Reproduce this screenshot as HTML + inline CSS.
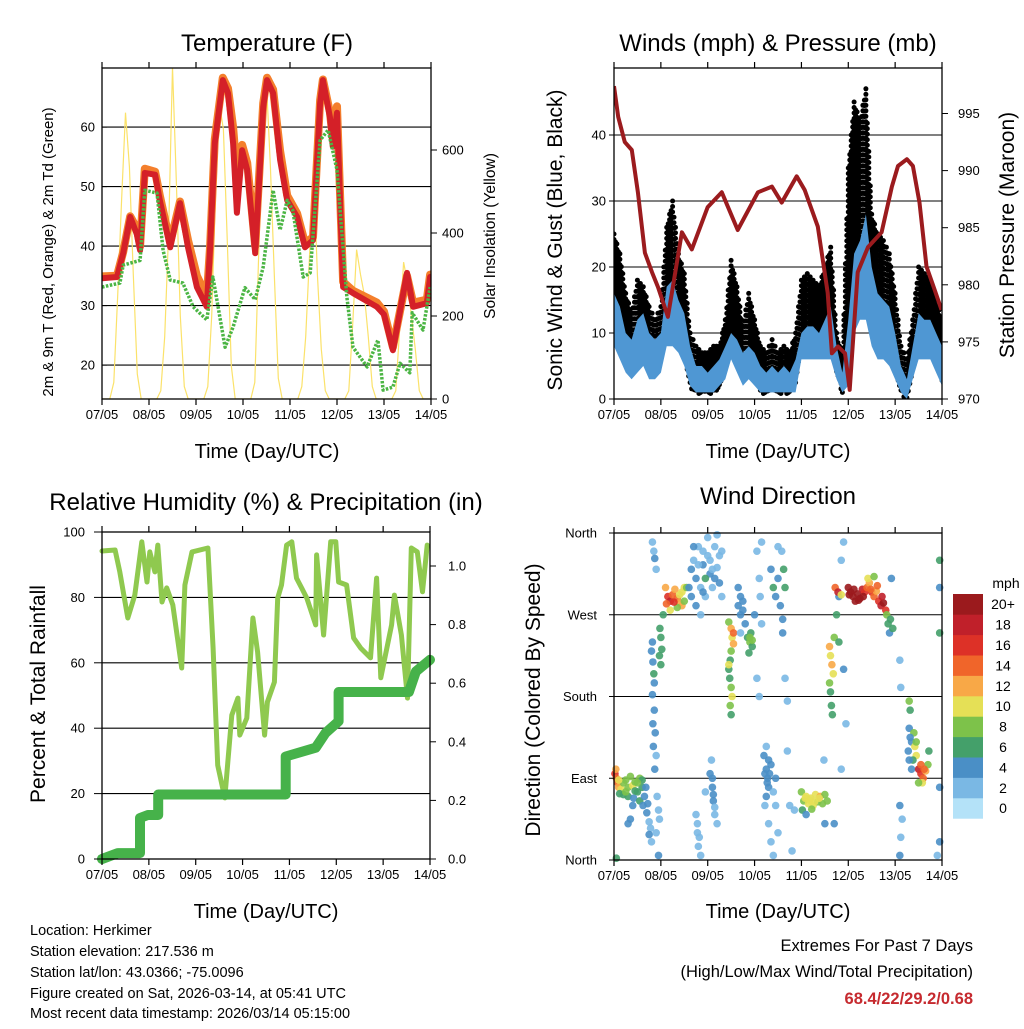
<!DOCTYPE html>
<html><head><meta charset="utf-8"><style>
html,body{margin:0;padding:0;background:#fff;}
svg text{font-family:"Liberation Sans",Arial,sans-serif;fill:#000;}
</style></head><body>
<svg id="chart" width="1024" height="1024" viewBox="0 0 1024 1024" xmlns="http://www.w3.org/2000/svg">
<rect width="1024" height="1024" fill="#fff"/>
<g id="p1"></g>
<g id="p2"></g>
<g id="p3"></g>
<g id="p4"></g>
<g font-size="14.5">
<text x="30" y="935">Location: Herkimer</text>
<text x="30" y="956">Station elevation: 217.536 m</text>
<text x="30" y="977">Station lat/lon: 43.0366; -75.0096</text>
<text x="30" y="998">Figure created on Sat, 2026-03-14, at 05:41 UTC</text>
<text x="30" y="1018">Most recent data timestamp: 2026/03/14 05:15:00</text>
</g>
<g font-size="16.5" text-anchor="end">
<text x="973" y="951">Extremes For Past 7 Days</text>
<text x="973" y="977">(High/Low/Max Wind/Total Precipitation)</text>
<text x="973" y="1004" font-weight="bold" style="fill:#c62a2f">68.4/22/29.2/0.68</text>
</g>
</svg>
<script>
const NS="http://www.w3.org/2000/svg";
const dayLabels=["07/05","08/05","09/05","10/05","11/05","12/05","13/05","14/05"];
// Temperature (2m red, 9m orange, dewpoint green)
const tDays=[0,0.32,0.45,0.6,0.74,0.81,0.91,1.13,1.23,1.45,1.66,1.83,2.02,2.23,2.3,2.4,2.57,2.68,2.79,2.87,2.98,3.09,3.26,3.43,3.51,3.64,3.79,3.94,4.15,4.32,4.49,4.64,4.7,4.85,4.91,5.0,5.13,5.34,5.85,6.0,6.19,6.49,6.62,6.91,6.98];
const t2m=[34.6,34.8,38.8,44.9,42,39.3,52.3,52,47.7,39.8,47.2,39.8,33.1,29.8,39.8,57.3,67.9,65.7,57.3,45.6,56.1,52.8,38.8,63.4,67.9,65.7,54.5,47.7,44.9,39.8,41,64,67.9,61.7,56.7,62.4,33.1,32.1,29.8,28.5,22.5,35.5,29.8,30.4,34.8];
const t9m=[34.9,35,39,45,43,40,53,52.5,48.5,40.5,47.5,41,35,31.5,40,58,68.3,66.5,60,52,57,54,40,64,68.3,66.3,56,48.5,45.5,40.5,41.5,64.5,68,62.5,58,63.5,34,32.5,30.5,29,23,35,30.5,31,35.2];
const tdDays=[0,0.38,0.45,0.81,0.91,1.17,1.3,1.45,1.72,1.94,2.23,2.36,2.62,2.79,3.04,3.26,3.43,3.64,3.79,3.94,4.06,4.28,4.43,4.64,4.81,5.0,5.21,5.34,5.64,5.87,5.98,6.19,6.34,6.55,6.6,6.83,6.98];
const td2m=[33.1,33.8,36.8,37.6,49.4,48.9,39.3,34.3,33.8,29.8,27.6,34.8,23,26.4,33,31,36.5,49.4,42.7,47.7,46,34.8,35.5,57.8,59.5,52.8,31.4,23,19.7,24.2,15.8,16.3,20.3,18.7,28.8,25.9,33.1];
// Solar insolation, every 2 hours
const solar=[0,0,0,40,250,480,690,560,300,60,0,0, 0,0,0,20,150,400,800,520,200,30,0,0, 0,0,0,30,200,500,710,650,380,80,0,0, 0,0,0,40,350,650,760,560,300,50,0,0, 0,0,0,30,150,350,560,300,120,20,0,0, 0,0,0,20,180,360,300,250,150,30,0,0, 0,0,0,20,170,330,280,200,120,20,0,0, 0];
// Winds, every 3 hours
const spdLo=[8,6,4,3,4,5,3,3,4,8,8,7,5,2,1,1,1,1,2,3,6,4,2,3,2,1,1,1,1,1,1,1,6,6,6,6,6,6,3,1,2,10,12,12,8,6,6,5,3,1,0,3,6,6,6,4,2];
const spdHi=[16,14,10,9,12,13,10,9,10,17,18,15,13,8,5,5,4,5,6,8,10,9,7,8,7,5,4,5,4,5,4,6,10,11,11,10,12,14,8,4,12,22,24,28,20,16,15,14,10,5,3,8,13,12,12,10,8];
const gustLo=[12,10,6,5,8,8,6,5,7,12,13,11,8,3,2,2,2,2,3,5,10,8,4,5,4,2,2,2,2,2,2,3,10,10,10,9,10,10,5,2,10,20,22,20,14,12,12,10,6,2,1,5,10,10,10,8,4];
const gustHi=[25,22,16,13,18,17,14,12,14,26,30,22,19,10,8,7,7,8,8,12,21,17,11,16,12,8,7,9,7,8,7,10,18,19,18,17,20,23,10,6,35,45,42,47,28,25,24,22,16,8,6,12,20,19,18,15,12];
const presDays=[0,0.09,0.23,0.38,0.51,0.66,0.81,0.94,1.15,1.45,1.66,2.0,2.3,2.64,3.07,3.37,3.58,3.9,4.07,4.35,4.56,4.65,4.78,4.93,5.03,5.2,5.42,5.71,5.93,6.06,6.25,6.38,6.52,6.67,6.84,6.99];
const pres=[997.4,994.7,992.5,991.8,988.1,982.8,981.1,979.8,977.2,984.6,983.1,986.8,988.1,984.8,988.1,988.6,987.2,989.5,988.3,985.1,979.3,974,974.6,974,970.8,981.1,983.3,984.6,988.6,990.4,991,990.4,987.2,981.6,979.6,977.8];
// RH and precipitation
const rhDays=[0,0.28,0.38,0.55,0.7,0.85,0.96,1.02,1.13,1.19,1.28,1.38,1.51,1.7,1.77,1.92,2.26,2.37,2.47,2.62,2.77,2.9,2.94,3.09,3.22,3.32,3.47,3.53,3.68,3.75,3.83,3.94,4.05,4.15,4.26,4.37,4.56,4.58,4.73,4.88,4.99,5.05,5.22,5.37,5.52,5.73,5.86,5.95,6.18,6.24,6.39,6.52,6.6,6.73,6.84,6.94];
const rh=[94.2,94.5,87.8,73.7,80.7,97,84.7,93.9,87.8,96,78.6,82.9,77.7,58.4,83.8,93.9,95.1,64.5,28.7,18.7,44,49.2,37.9,43.1,73.7,63.3,37.9,48,54.1,79.8,83.8,96,97,85.9,82.9,79.8,71.6,93,68.5,97,97,84.7,83.8,67.6,64.5,61.5,85.9,55.4,71.6,80.7,68.5,49.2,95.1,93.9,81.7,96];
const prDays=[0,0.34,0.81,0.81,0.98,1.2,1.2,3.92,3.92,4.56,4.77,5.05,5.05,6.55,6.7,7.0];
const precip=[0,0.02,0.02,0.14,0.15,0.15,0.22,0.22,0.35,0.38,0.43,0.47,0.57,0.57,0.64,0.68];
// Wind direction points: [day, degrees, speed]
const dirPts=[[0.02,95,16],[0.05,90,15],[0.08,85,14],[0.04,100,12],[0.1,80,12],[0.15,78,10],[0.2,85,8],[0.25,88,9],[0.3,80,8],[0.35,92,8],[0.4,82,10],[0.45,86,9],[0.5,75,6],[0.55,90,8],[0.6,80,6],[0.3,70,6],[0.42,68,4],[0.55,65,6],[0.62,60,4],[0.65,70,5],[0.2,72,7],[0.12,73,6],[0.7,52,4],[0.75,42,3],[0.3,40,4],[0.35,45,5],[0.05,2,6],[0.78,35,3],[0.95,5,4],
[0.25,75,8],[0.45,76,7],[0.6,88,7],[0.1,88,10],[0.5,85,9],[0.68,80,5],[0.72,62,4],[0.75,28,4],[0.8,20,3],[0.4,60,5],
[0.82,350,3],[0.85,340,3],[0.87,332,4],[0.9,320,3],[0.8,230,5],[0.83,218,5],[0.85,205,6],[0.82,182,4],[0.86,165,4],[0.88,140,4],[0.84,125,4],[0.9,115,3],[0.95,55,2],[0.97,45,3],[0.92,70,3],
[0.83,150,4],[0.87,100,4],[0.82,240,4],[0.86,195,4],[0.9,30,3],
[0.98,255,6],[1.0,245,6],[1.02,232,6],[0.97,225,7],[1.0,215,6],
[1.1,300,12],[1.15,290,16],[1.2,285,18],[1.25,292,14],[1.3,298,12],[1.35,288,14],[1.4,283,12],[1.45,295,10],[1.5,300,10],[1.45,280,12],[1.2,275,10],[1.35,278,8],[1.5,285,8],
[1.12,282,14],[1.28,284,16],[1.4,292,11],[1.55,300,9],[1.05,270,6],
[1.65,320,4],[1.7,330,3],[1.75,310,4],[1.8,345,2],[1.85,300,3],[1.9,325,4],[1.95,290,2],[2.0,335,3],[2.05,315,4],[2.1,300,3],[2.15,345,2],[2.2,322,3],[2.25,305,4],[2.3,290,3],[1.75,280,4],[1.85,270,3],[2.0,355,3],[2.2,358,2],[1.6,300,5],[1.95,310,6],
[1.7,345,4],[1.8,325,3],[1.9,340,2],[2.05,330,2],[2.1,320,3],[2.25,335,2],[1.65,290,4],[2.15,310,4],[1.9,295,5],[2.3,340,3],
[1.75,50,3],[1.78,30,3],[1.8,15,2],[1.85,5,3],[2.05,95,4],[2.1,80,4],[2.12,65,4],[2.15,50,3],[2.2,40,3],[1.95,75,2],[2.08,110,2],
[2.1,90,4],[2.12,72,4],[2.15,58,3],[1.78,40,2],[1.82,25,3],
[2.45,262,8],[2.5,255,12],[2.52,245,10],[2.55,238,12],[2.5,230,8],[2.48,220,6],[2.45,210,7],[2.47,200,6],[2.5,190,8],[2.52,180,10],[2.48,170,8],[2.5,160,6],[2.55,250,14],[2.45,215,10],
[2.65,280,5],[2.7,270,4],[2.75,285,4],[2.8,260,4],[2.85,245,6],[2.9,240,8],[2.95,235,7],[2.92,250,7],[2.88,228,6],[3.0,270,4],[2.7,250,3],
[2.65,300,4],[2.7,290,5],[2.75,275,4],[2.9,245,8],[2.95,242,8],
[3.05,340,3],[3.1,310,3],[3.12,290,2],[3.15,260,3],[3.05,200,2],[3.15,350,2],[3.1,180,2],
[3.2,115,4],[3.25,100,5],[3.28,90,4],[3.3,80,4],[3.25,70,5],[3.35,105,4],[3.22,60,3],[3.3,40,3],[3.35,20,2],[3.45,90,4],[3.45,60,3],[3.5,30,3],[3.4,5,2],
[3.22,95,4],[3.27,85,4],[3.32,95,4],[3.3,110,4],[3.25,125,3],[3.4,75,3],
[3.35,320,5],[3.4,300,6],[3.45,290,4],[3.5,310,5],[3.55,280,4],[3.6,265,5],[3.62,320,6],[3.65,300,6],[3.58,340,2],[3.5,345,3],[3.6,250,5],
[3.65,200,2],[3.7,175,2],[3.7,120,3],[3.75,60,3],[3.8,10,2],[3.85,55,3],
[4.0,75,8],[4.05,65,9],[4.1,70,10],[4.15,62,10],[4.2,68,11],[4.25,60,10],[4.3,72,10],[4.35,64,9],[4.4,70,12],[4.45,62,8],[4.5,72,8],[4.55,65,8],[4.02,55,6],[4.1,50,4],[4.5,40,4],[4.48,110,3],
[4.08,68,10],[4.18,66,10],[4.28,64,11],[4.38,68,10],[4.22,56,8],
[4.6,235,12],[4.62,225,10],[4.65,215,12],[4.68,205,10],[4.6,195,8],[4.62,185,6],[4.64,170,6],[4.66,160,6],[4.7,245,8],[4.75,270,6],[4.8,290,4],[4.85,330,3],[4.9,350,3],[4.8,240,6],[4.9,210,4],[4.95,150,3],[4.85,100,3],[4.7,40,4],
[4.72,300,14],[4.78,295,18],[4.85,292,10],[5.0,300,20],[5.05,295,22],[5.1,290,22],[5.15,285,20],[5.2,293,21],[5.25,288,22],[5.3,298,18],[5.35,295,16],[5.4,300,14],[5.45,305,12],[5.5,295,16],[5.55,290,14],[5.6,296,12],[5.65,285,16],[5.7,280,18],[5.75,283,20],[5.8,275,16],[5.42,310,10],[5.55,312,8],
[5.02,292,21],[5.12,298,22],[5.22,286,22],[5.32,290,20],[5.48,298,14],[5.62,302,14],[5.72,290,18],
[5.82,270,8],[5.85,260,6],[5.9,265,6],[5.88,250,4],[5.95,255,6],[5.92,310,4],
[6.1,220,2],[6.12,190,2],[6.1,60,4],[6.15,45,2],[6.12,25,2],[6.1,5,4],
[6.3,175,8],[6.32,165,6],[6.3,145,4],[6.35,130,4],[6.28,120,5],[6.4,140,8],[6.42,125,10],[6.45,115,10],[6.38,110,6],[6.35,100,4],[6.5,100,18],[6.55,95,16],[6.6,90,14],[6.65,98,12],[6.58,85,10],[6.7,105,8],[6.72,120,6],[6.5,85,8],
[6.3,110,4],[6.32,135,5],[6.45,130,9],[6.55,105,15],[6.62,100,14],
[6.95,330,6],[6.95,300,4],[6.95,250,6],[6.95,80,4],[6.95,20,4],[6.9,5,3]];
const speedColors=["#b4e2f8","#7ab8e4","#4a8fc6","#44a06a","#7dc24a","#e5e056","#f8a847","#f0652a","#dd3127","#c0202a","#9b1a1d"];
const speedLabels=["0","2","4","6","8","10","12","14","16","18","20+"];

function el(parent,tag,attrs,text){const e=document.createElementNS(NS,tag);for(const k in attrs)e.setAttribute(k,attrs[k]);if(text!==undefined)e.textContent=text;parent.appendChild(e);return e;}
function pathD(xs,ys){return xs.map((x,i)=>(i?"L":"M")+x.toFixed(1)+","+ys[i].toFixed(1)).join("");}

function frame(g,x0,x1,y0,y1,name){
  for(let i=0;i<8;i++){const x=x0+(x1-x0)*i/7;
    el(g,"line",{x1:x,x2:x,y1:y1,y2:y1+6,stroke:"#000","stroke-width":1.2});
    el(g,"line",{x1:x,x2:x,y1:y0,y2:y0-6,stroke:"#000","stroke-width":1.2});
    const t=el(g,"text",{x:x,y:y1+20,"font-size":13,"text-anchor":"middle"},dayLabels[i]);
    
    
  }
  const r=el(g,"rect",{x:x0,y:y0,width:x1-x0,height:y1-y0,fill:"none",stroke:"#000","stroke-width":1.3});
  
  
}
function hgrid(g,x0,x1,y){el(g,"line",{x1:x0,x2:x1,y1:y,y2:y,stroke:"#000","stroke-width":1.1});}
function title(g,x,y,s,size,name){const t=el(g,"text",{x:x,y:y,"font-size":size,"text-anchor":"middle"},s);
  
  return t;}
function vtitle(g,x,y,s,size,name){const t=el(g,"text",{x:x,y:y,"font-size":size,"text-anchor":"middle",transform:`rotate(-90 ${x} ${y})`},s);
  
  return t;}
function ylab(g,x,y,s,anchor,name){const t=el(g,"text",{x:x,y:y+4.5,"font-size":13,"text-anchor":anchor},s);
  
  
  return t;}

// ---------- Panel 1 ----------
(function(){
const g=document.getElementById("p1");const x0=102,x1=431,y0=68,y1=399;
const X=d=>x0+d*(x1-x0)/7, Y=t=>399-(t-14.3)*5.95, YS=s=>399-s*0.415;
const clip=el(g,"clipPath",{id:"c1"});el(clip,"rect",{x:x0,y:y0,width:x1-x0,height:y1-y0});
const pg=el(g,"g",{"clip-path":"url(#c1)"});
[20,30,40,50,60].forEach(v=>hgrid(pg,x0,x1,Y(v)));
const sx=solar.map((v,i)=>X(i/12)), sy=solar.map(v=>YS(v));
const sl=el(pg,"path",{d:pathD(sx,sy),fill:"none",stroke:"#fbe26a","stroke-width":1.2});


const o=el(pg,"path",{d:pathD(tDays.map(X),t9m.map(Y)),fill:"none",stroke:"#f47f2c","stroke-width":8,"stroke-linejoin":"round","stroke-linecap":"round"});


const r=el(pg,"path",{d:pathD(tDays.map(X),t2m.map(Y)),fill:"none",stroke:"#d42028","stroke-width":6,"stroke-linejoin":"round","stroke-linecap":"round"});


const gd=el(pg,"path",{d:pathD(tdDays.map(X),td2m.map(Y)),fill:"none",stroke:"#4bb544","stroke-width":3.5,"stroke-dasharray":"2.5 1.5","stroke-linejoin":"round"});


frame(g,x0,x1,y0,y1,"temperature");
[20,30,40,50,60].forEach(v=>{ylab(g,x0-7,Y(v),String(v),"end","temp-tick-label");el(g,"line",{x1:x0,x2:x0+5,y1:Y(v),y2:Y(v),stroke:"#000"});});
[0,200,400,600].forEach(v=>{ylab(g,x1+11,YS(v),String(v),"start","solar-tick-label");el(g,"line",{x1:x1,x2:x1+6,y1:YS(v),y2:YS(v),stroke:"#000"});});
title(g,267,51,"Temperature (F)",24,"temperature-title");
title(g,267,458,"Time (Day/UTC)",20,"temperature-x-title");
vtitle(g,53,252,"2m & 9m T (Red, Orange) & 2m Td (Green)",15,"temperature-y-title");
vtitle(g,495,236,"Solar Insolation (Yellow)",15.5,"solar-y-title");
})();

// ---------- Panel 2 ----------
(function(){
const g=document.getElementById("p2");const x0=614,x1=942,y0=68,y1=399;
const X=d=>x0+d*(x1-x0)/7, Y=v=>399-v*6.6, YP=p=>399-(p-970)*11.42;
const clip=el(g,"clipPath",{id:"c2"});el(clip,"rect",{x:x0,y:y0,width:x1-x0,height:y1-y0});
const pg=el(g,"g",{"clip-path":"url(#c2)"});
[10,20,30,40].forEach(v=>hgrid(pg,x0,x1,Y(v)));
const n=gustHi.length, days=gustHi.map((v,i)=>i*7/(n-1));
const gg=el(pg,"g",{fill:"#000"});


const steps=(n-1)*4;
for(let s=0;s<=steps;s++){const i=Math.min(n-2,Math.floor(s/4)),f=(s-i*4)/4;const d=days[i]+f*(days[i+1]-days[i]);
  const hi=gustHi[i]+f*(gustHi[i+1]-gustHi[i]),lo=gustLo[i]+f*(gustLo[i+1]-gustLo[i]);
  const yh=Y(hi),yl=Y(lo),off=(s%2)*3;
  for(let y=yh+off;y<=yl+8;y+=5.5){const c=el(gg,"circle",{cx:X(d).toFixed(1),cy:y.toFixed(1),r:2.5});
    
    }
}
const bp=el(pg,"path",{d:pathD(days.map(X),spdHi.map(Y))+pathD(days.slice().reverse().map(X),spdLo.slice().reverse().map(Y)).replace("M","L")+"Z",fill:"#4f97d3"});


const pl=el(pg,"path",{d:pathD(presDays.map(X),pres.map(YP)),fill:"none",stroke:"#9b1b1e","stroke-width":4,"stroke-linejoin":"round"});


frame(g,x0,x1,y0,y1,"winds");
[0,10,20,30,40].forEach(v=>{ylab(g,x0-8,Y(v),String(v),"end","wind-tick-label");el(g,"line",{x1:x0-5,x2:x0,y1:Y(v),y2:Y(v),stroke:"#000"});});
[970,975,980,985,990,995].forEach(v=>{ylab(g,x1+16,YP(v),String(v),"start","pressure-tick-label");el(g,"line",{x1:x1,x2:x1+6,y1:YP(v),y2:YP(v),stroke:"#000"});});
title(g,778,51,"Winds (mph) & Pressure (mb)",24,"winds-title");
title(g,778,458,"Time (Day/UTC)",20,"winds-x-title");
vtitle(g,562,240,"Sonic Wind & Gust (Blue, Black)",21,"wind-y-title");
vtitle(g,1014,235,"Station Pressure (Maroon)",21,"pressure-y-title");
})();

// ---------- Panel 3 ----------
(function(){
const g=document.getElementById("p3");const x0=102,x1=430,y0=532,y1=859;
const X=d=>x0+d*(x1-x0)/7, Y=v=>859-v*3.27, YP=p=>859-p*293;
const clip=el(g,"clipPath",{id:"c3"});el(clip,"rect",{x:x0-6,y:y0,width:x1-x0+12,height:y1-y0+6});
const pg=el(g,"g",{"clip-path":"url(#c3)"});
[20,40,60,80].forEach(v=>hgrid(pg,x0,x1,Y(v)));
const rl=el(pg,"path",{d:pathD(rhDays.map(X),rh.map(Y)),fill:"none",stroke:"#8fc94f","stroke-width":5,"stroke-linejoin":"round","stroke-linecap":"round"});


const pl=el(pg,"path",{d:pathD(prDays.map(X),precip.map(YP)),fill:"none",stroke:"#46b24a","stroke-width":10,"stroke-linejoin":"round","stroke-linecap":"round"});


frame(g,x0,x1,y0,y1,"humidity");
[0,20,40,60,80,100].forEach(v=>{ylab(g,x0-17,Y(v),String(v),"end","rh-tick-label");el(g,"line",{x1:x0-8,x2:x0,y1:Y(v),y2:Y(v),stroke:"#000"});});
[0,0.2,0.4,0.6,0.8,1.0].forEach(v=>{ylab(g,x1+18,YP(v),v.toFixed(1),"start","precip-tick-label");el(g,"line",{x1:x1,x2:x1+6,y1:YP(v),y2:YP(v),stroke:"#000"});});
title(g,266,510,"Relative Humidity (%) & Precipitation (in)",24,"humidity-title");
title(g,266,918,"Time (Day/UTC)",20,"humidity-x-title");
vtitle(g,45,694,"Percent & Total Rainfall",21,"humidity-y-title");
})();

// ---------- Panel 4 ----------
(function(){
const g=document.getElementById("p4");const x0=614,x1=942,y0=533,y1=860;
const X=d=>x0+d*(x1-x0)/7, Y=v=>860-v*0.9083;
[90,180,270].forEach(v=>hgrid(g,x0,x1,Y(v)));
dirPts.forEach(p=>{const bin=Math.min(10,Math.floor(p[2]/2));
  const c=el(g,"circle",{cx:X(p[0]),cy:Y(p[1]),r:3.8,fill:speedColors[bin],"fill-opacity":0.9});
  
  });
frame(g,x0,x1,y0,y1,"wind-direction");
const dl=["North","East","South","West","North"];
[0,90,180,270,360].forEach((v,i)=>{ylab(g,x0-17,Y(v),dl[i],"end","direction-tick-label");el(g,"line",{x1:x0-5,x2:x0,y1:Y(v),y2:Y(v),stroke:"#000"});});
title(g,778,504,"Wind Direction",24,"wind-direction-title");
title(g,778,918,"Time (Day/UTC)",20,"wind-direction-x-title");
vtitle(g,540,700,"Direction (Colored By Speed)",21,"wind-direction-y-title");
const lg=el(g,"g",{});


const h=20.4;
for(let i=0;i<11;i++){const y=594+(10-i)*h;
  const r=el(lg,"rect",{x:953,y:y,width:30,height:h+0.3,fill:speedColors[i]});
  
  
  const t=el(lg,"text",{x:1003,y:y+h/2+5,"font-size":14,"text-anchor":"middle"},speedLabels[i]);
  
  }
const u=el(lg,"text",{x:1006,y:588,"font-size":14,"text-anchor":"middle"},"mph");


})();
</script>
</body></html>
